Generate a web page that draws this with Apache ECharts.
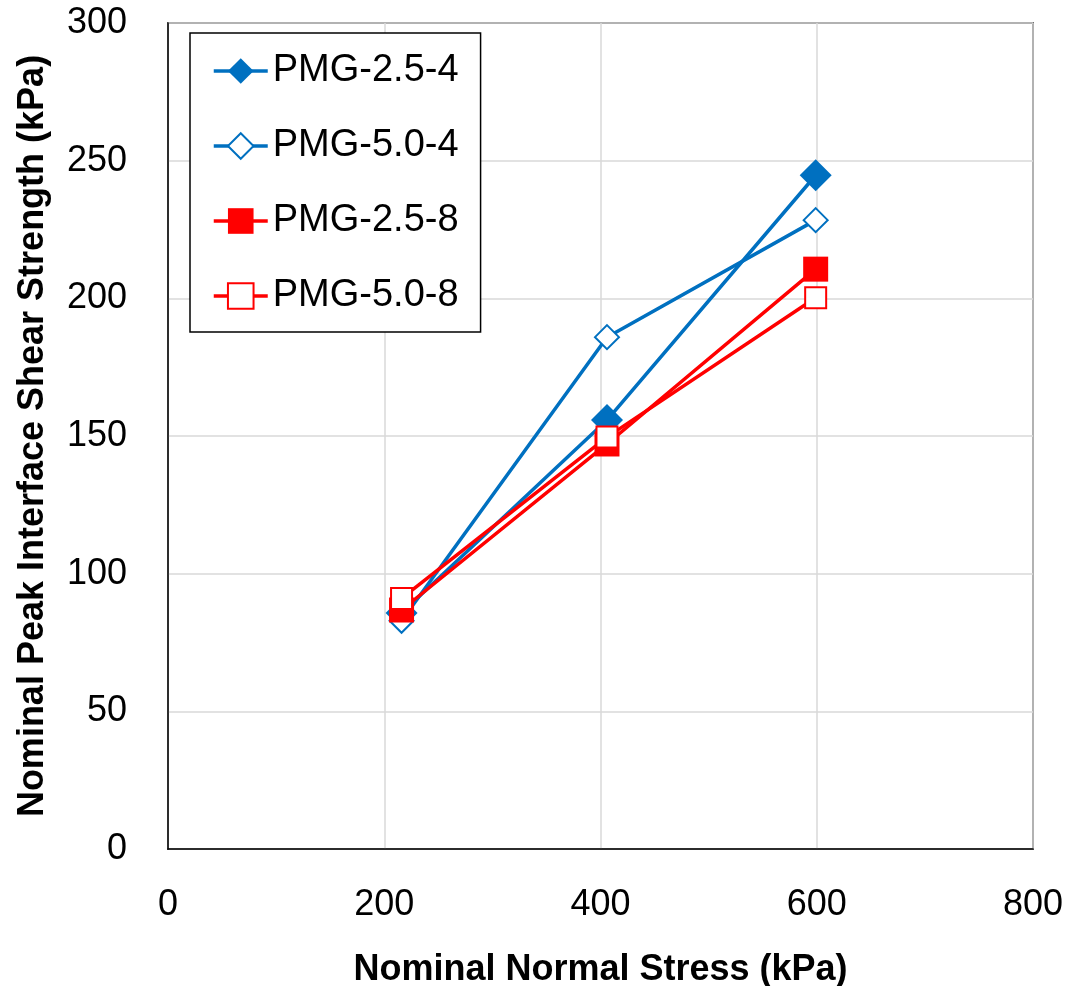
<!DOCTYPE html>
<html>
<head>
<meta charset="utf-8">
<script src="https://cdn.jsdelivr.net/npm/echarts@6/dist/echarts.min.js"></script>
<style>
  html, body { margin: 0; padding: 0; background: #fff; }
  #main { width: 1071px; height: 986px; }
</style>
</head>
<body>
<div id="main"></div>
<script>
// normal stress (kPa)
const normalStress = [216, 406, 599]
// peak interface shear strength (kPa)
const pmg25_4 = [85.7, 155.8, 244.7]
const pmg50_4 = [82.9, 185.9, 228.4]
const pmg25_8 = [86.8, 147.1, 210.6]
const pmg50_8 = [91.0, 149.6, 200.2]

const seriesNames = ['PMG-2.5-4', 'PMG-5.0-4', 'PMG-2.5-8', 'PMG-5.0-8']

const BLUE = '#0070C0'
const RED = '#FF0000'
const FONT = 'Liberation Sans'

function pairs(ys) {
  return normalStress.map((x, i) => [x, ys[i]])
}

let myChart = echarts.init(document.getElementById('main'))

myChart.setOption({
  animation: false,
  textStyle: { fontFamily: FONT, color: '#000' },
  grid: {
    left: 168, right: 38, top: 23, bottom: 137,
    outerBoundsMode: 'none',
    containLabel: false,
    show: true, borderColor: '#000', borderWidth: 1.5,
    backgroundColor: 'transparent'
  },
  legend: {
    orient: 'vertical',
    left: 190, top: 33,
    padding: [19, 22, 17, 22],
    itemGap: 37,
    itemWidth: 54,
    itemHeight: 32,
    backgroundColor: '#fff',
    borderColor: '#000',
    borderWidth: 1.5,
    lineStyle: { width: 3.5 },
    textStyle: { fontFamily: FONT, fontSize: 38, lineHeight: 37, color: '#000' },
    data: seriesNames
  },
  xAxis: {
    type: 'value',
    min: 0, max: 800, interval: 200,
    name: 'Nominal Normal Stress (kPa)',
    nameLocation: 'middle',
    nameGap: 103,
    nameTextStyle: { fontFamily: FONT, fontSize: 36, fontWeight: 'bold', color: '#000' },
    axisLine: { show: true, lineStyle: { color: '#000', width: 1.5 } },
    axisTick: { show: false },
    axisLabel: { fontFamily: FONT, fontSize: 36, color: '#000', margin: 38 },
    splitLine: { show: true, lineStyle: { color: '#d9d9d9', width: 1.5 } }
  },
  yAxis: {
    type: 'value',
    min: 0, max: 300, interval: 50,
    name: 'Nominal Peak Interface Shear Strength (kPa)',
    nameLocation: 'middle',
    nameGap: 117,
    nameTextStyle: { fontFamily: FONT, fontSize: 36, fontWeight: 'bold', color: '#000' },
    axisLine: { show: true, lineStyle: { color: '#000', width: 1.5 } },
    axisTick: { show: false },
    axisLabel: { fontFamily: FONT, fontSize: 36, color: '#000', margin: 41 },
    splitLine: { show: true, lineStyle: { color: '#d9d9d9', width: 1.5 } }
  },
  series: [
    {
      name: 'PMG-2.5-4',
      type: 'line',
      data: pairs(pmg25_4),
      symbol: 'diamond',
      symbolSize: 32,
      lineStyle: { color: BLUE, width: 3.5 },
      itemStyle: { color: BLUE, borderColor: BLUE, borderWidth: 0 }
    },
    {
      name: 'PMG-5.0-4',
      type: 'line',
      data: pairs(pmg50_4),
      symbol: 'diamond',
      symbolSize: 24,
      lineStyle: { color: BLUE, width: 3.5 },
      itemStyle: { color: '#fff', borderColor: BLUE, borderWidth: 2 }
    },
    {
      name: 'PMG-2.5-8',
      type: 'line',
      data: pairs(pmg25_8),
      symbol: 'rect',
      symbolSize: 25,
      lineStyle: { color: RED, width: 3.5 },
      itemStyle: { color: RED, borderColor: RED, borderWidth: 0 }
    },
    {
      name: 'PMG-5.0-8',
      type: 'line',
      data: pairs(pmg50_8),
      symbol: 'rect',
      symbolSize: 21,
      lineStyle: { color: RED, width: 3.5 },
      itemStyle: { color: '#fff', borderColor: RED, borderWidth: 2 }
    }
  ]
})
</script>
</body>
</html>
